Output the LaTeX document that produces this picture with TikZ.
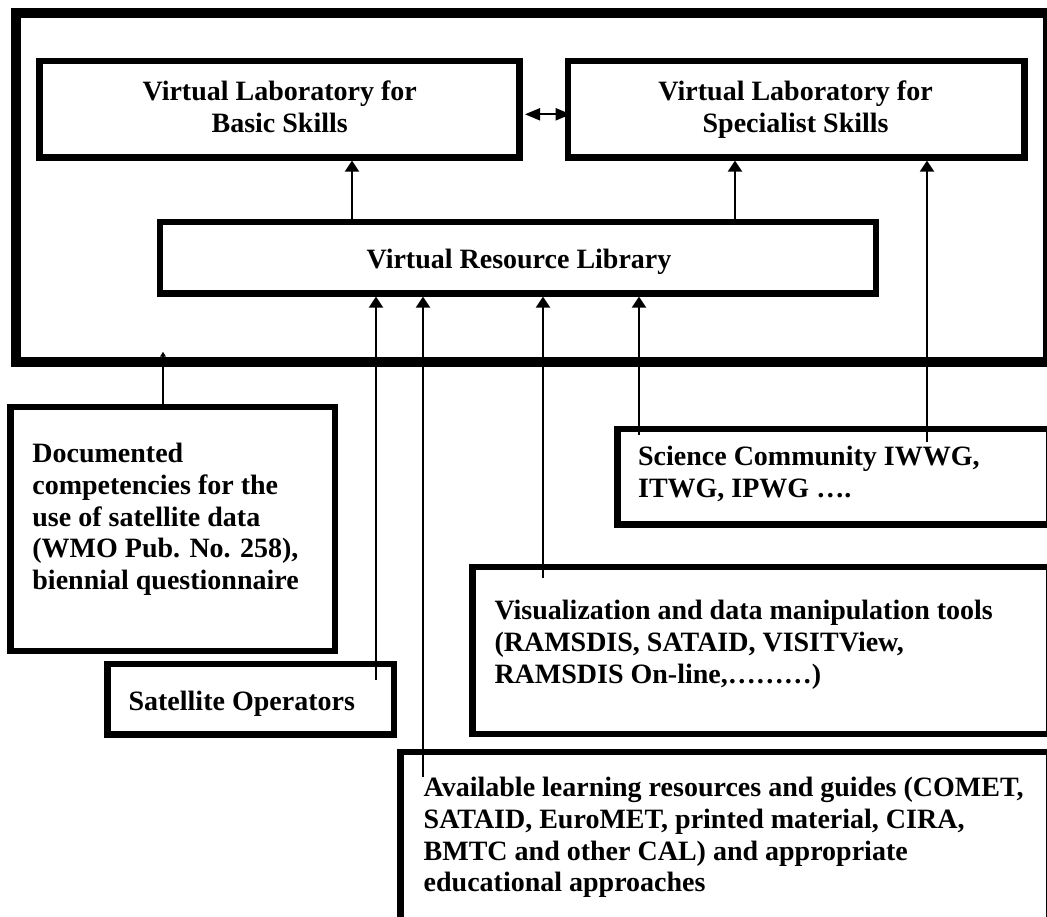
\documentclass[tikz,border=0pt]{standalone}
\usepackage{fontspec}
\setmainfont{Liberation Serif}
\usetikzlibrary{arrows.meta,fit}
\begin{document}
\begin{tikzpicture}[x=0.5pt,y=-0.5pt,
  box/.style={draw,line width=3.3pt,inner sep=0pt,rectangle},
  frm/.style={draw,line width=5pt,inner sep=0pt,rectangle},
  txt/.style={inner sep=0pt,font=\fontsize{14}{15.9}\selectfont\bfseries},
  arr/.style={line width=1pt,-{Triangle[length=5.5pt,width=7pt]}},
  dbl/.style={line width=1pt,{Triangle[length=7.5pt,width=6pt]}-{Triangle[length=7.5pt,width=6pt]}},
  smallarr/.style={line width=1pt,-{Triangle[length=2.5pt,width=2.8pt]}}]
\useasboundingbox (0,0) rectangle (1047,916);
\clip (0,0) rectangle (1047,916);
% frame and boxes
\node[frm, fit={(16,13) (1048,362)}] (frame) {};
\node[box, fit={(39.5,61) (519.7,157.3)}] (basic) {};
\node[box, fit={(568,61) (1024.7,157.3)}] (spec) {};
\node[box, fit={(160,222) (876,293.3)}] (vrl) {};
\node[box, fit={(10.5,407) (335,651)}] (doc) {};
\node[box, fit={(107.5,664) (394,734.5)}] (sat) {};
\node[box, fit={(617.7,429) (1049,524.5)}] (sci) {};
\node[box, fit={(472.4,567) (1049,734)}] (vis) {};
\node[box, fit={(400.3,752) (1049,960)}] (avail) {};
% texts
\node[txt,align=center,anchor=north] (basict) at (279.7,80.7) {Virtual Laboratory for\\Basic Skills};
\node[txt,align=center,anchor=north] (spect) at (795.6,80.7) {Virtual Laboratory for\\Specialist Skills};
\node[txt,anchor=base] (vrlt) at (519,268.3) {Virtual Resource Library};
\node[txt,align=left,anchor=north west] (doct) at (32,442.7) {Documented\\competencies for the\\use of satellite data\\(WMO Pub. No. 258),\\biennial questionnaire};
\node[txt,anchor=base west] (satt) at (128.2,710) {Satellite Operators};
\node[txt,align=left,anchor=north west] (scit) at (637.7,445.5) {Science Community IWWG,\\ITWG, IPWG \dots.};
\node[txt,align=left,anchor=north west] (vist) at (494.1,600) {Visualization and data manipulation tools\\(RAMSDIS, SATAID, VISITView,\\RAMSDIS On-line,\dots\dots\dots)};
\node[txt,align=left,anchor=north west] (availt) at (423.3,776.7) {Available learning resources and guides (COMET,\\SATAID, EuroMET, printed material, CIRA,\\BMTC and other CAL) and appropriate\\educational approaches};
% connector positions
\coordinate (xa) at (352,0);
\coordinate (xb) at (735,0);
\coordinate (xc) at (163,351.7);
\coordinate (ydbl) at (0,114.3);
\coordinate (ssat) at (376,680);
\coordinate (savail) at (423,776.7);
\coordinate (svis) at (543,578.3);
\coordinate (ssci) at (639,434.7);
\coordinate (ssci2) at (927,441.5);
% connectors
\draw[arr] (xa |- vrl.north) -- (xa |- basic.south);
\draw[arr] (xb |- vrl.north) -- (xb |- spec.south);
\draw[arr] (ssat) -- (ssat |- vrl.south);
\draw[arr] (savail) -- (savail |- vrl.south);
\draw[arr] (svis) -- (svis |- vrl.south);
\draw[arr] (ssci) -- (ssci |- vrl.south);
\draw[arr] (ssci2) -- (ssci2 |- spec.south);
\draw[smallarr] (xc |- doc.north) -- (xc);
\draw[dbl] ([xshift=1pt]basic.east |- ydbl) -- ([xshift=3pt]spec.west |- ydbl);
\end{tikzpicture}
\end{document}
